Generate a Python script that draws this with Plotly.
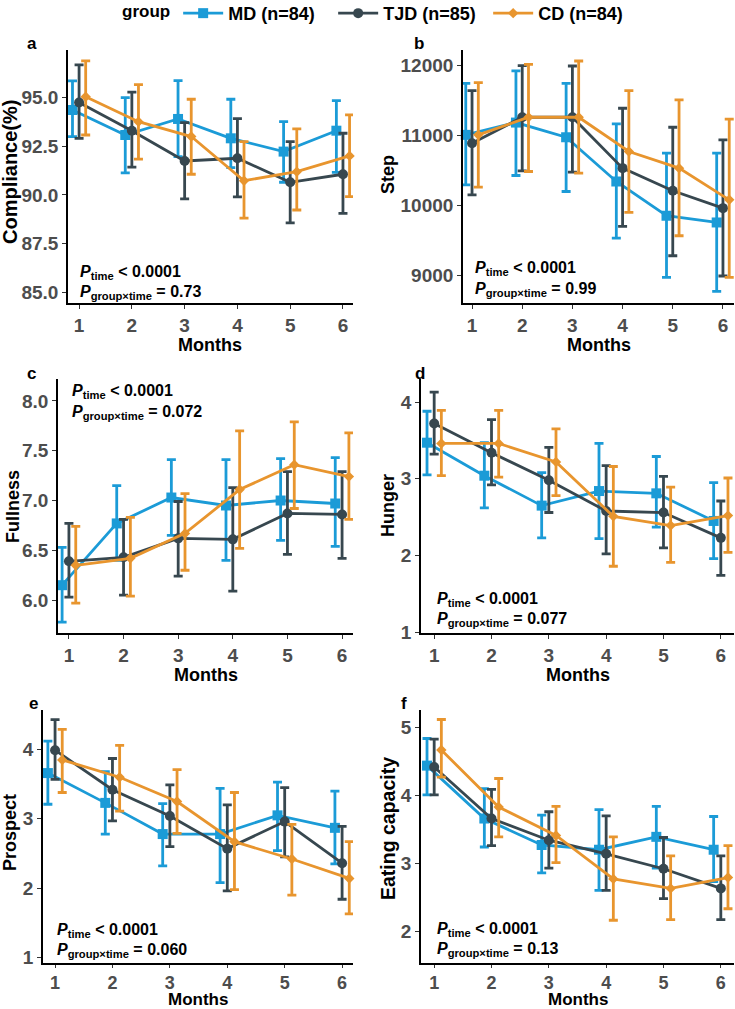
import plotly.graph_objects as go

W, H = 735, 1009
months = [1, 2, 3, 4, 5, 6]
groups = ["MD (n=84)", "TJD (n=85)", "CD (n=84)"]
colors = ["#1B9BD7", "#37474F", "#E8952E"]
symbols = ["square", "circle", "diamond"]
msizes = [10, 10, 8]
dodge = [-0.125, 0.0, 0.125]

# ---- panel a: Compliance(%)
a_md_mean = [94.35, 93.07, 93.89, 92.90, 92.22, 93.29]
a_md_lo = [92.99, 91.13, 91.96, 91.40, 90.65, 91.16]
a_md_hi = [95.84, 94.98, 95.85, 94.90, 93.75, 94.83]
a_tjd_mean = [94.73, 93.29, 91.74, 91.88, 90.65, 91.06]
a_tjd_lo = [92.90, 91.42, 89.80, 89.90, 88.57, 89.06]
a_tjd_hi = [96.66, 95.26, 93.70, 93.91, 92.73, 93.16]
a_cd_mean = [95.03, 93.75, 92.99, 90.73, 91.19, 92.00]
a_cd_lo = [93.07, 91.83, 91.06, 88.81, 89.23, 89.91]
a_cd_hi = [96.86, 95.65, 94.90, 92.73, 93.38, 94.10]

# ---- panel b: Step
b_md_mean = [11005, 11181, 10971, 10338, 9848, 9752]
b_md_lo = [10290, 10424, 10195, 9529, 8967, 8767]
b_md_hi = [11743, 11919, 11743, 11162, 10743, 10743]
b_tjd_mean = [10886, 11257, 11257, 10529, 10205, 9957]
b_tjd_lo = [10148, 10490, 10471, 9695, 9276, 8986]
b_tjd_hi = [11638, 11995, 11990, 11386, 11114, 10933]
b_cd_mean = [11005, 11257, 11257, 10767, 10529, 10076]
b_cd_lo = [10257, 10481, 10457, 9895, 9562, 8967]
b_cd_hi = [11752, 12014, 12062, 11638, 11505, 11229]

# ---- panel c: Fullness
c_md_mean = [6.15, 6.77, 7.03, 6.95, 7.00, 6.97]
c_md_lo = [5.78, 6.40, 6.65, 6.40, 6.60, 6.54]
c_md_hi = [6.53, 7.15, 7.41, 7.41, 7.42, 7.43]
c_tjd_mean = [6.39, 6.43, 6.62, 6.61, 6.87, 6.86]
c_tjd_lo = [6.03, 6.05, 6.24, 6.09, 6.46, 6.42]
c_tjd_hi = [6.77, 6.81, 6.99, 7.13, 7.29, 7.29]
c_cd_mean = [6.35, 6.42, 6.67, 7.11, 7.36, 7.24]
c_cd_lo = [5.97, 6.04, 6.30, 6.52, 6.92, 6.81]
c_cd_hi = [6.74, 6.83, 7.07, 7.70, 7.79, 7.68]

# ---- panel d: Hunger
d_md_mean = [3.47, 3.04, 2.65, 2.84, 2.81, 2.45]
d_md_lo = [3.05, 2.62, 2.23, 2.22, 2.37, 1.96]
d_md_hi = [3.88, 3.47, 3.08, 3.46, 3.29, 2.95]
d_tjd_mean = [3.72, 3.34, 2.98, 2.58, 2.56, 2.23]
d_tjd_lo = [3.32, 2.92, 2.56, 2.02, 2.10, 1.74]
d_tjd_hi = [4.13, 3.77, 3.41, 3.17, 3.03, 2.71]
d_cd_mean = [3.46, 3.46, 3.22, 2.51, 2.39, 2.52]
d_cd_lo = [3.04, 3.02, 2.78, 1.86, 1.91, 2.04]
d_cd_hi = [3.89, 3.89, 3.65, 3.16, 2.89, 3.01]

# ---- panel e: Prospect
e_md_mean = [3.66, 3.23, 2.78, 2.78, 3.05, 2.87]
e_md_lo = [3.21, 2.78, 2.32, 2.08, 2.54, 2.35]
e_md_hi = [4.12, 3.68, 3.22, 3.44, 3.53, 3.40]
e_tjd_mean = [3.99, 3.42, 3.04, 2.57, 2.96, 2.36]
e_tjd_lo = [3.57, 2.97, 2.60, 1.96, 2.45, 1.84]
e_tjd_hi = [4.43, 3.87, 3.49, 3.20, 3.45, 2.89]
e_cd_mean = [3.85, 3.60, 3.25, 2.67, 2.42, 2.14]
e_cd_lo = [3.38, 3.11, 2.79, 1.98, 1.90, 1.63]
e_cd_hi = [4.29, 4.06, 3.71, 3.38, 2.92, 2.67]

# ---- panel f: Eating capacity
f_md_mean = [4.44, 3.66, 3.27, 3.20, 3.39, 3.20]
f_md_lo = [4.01, 3.24, 2.86, 2.60, 2.93, 2.73]
f_md_hi = [4.84, 4.10, 3.71, 3.79, 3.84, 3.69]
f_tjd_mean = [4.42, 3.66, 3.34, 3.14, 2.92, 2.63]
f_tjd_lo = [4.01, 3.26, 2.93, 2.60, 2.48, 2.17]
f_tjd_hi = [4.83, 4.09, 3.76, 3.70, 3.38, 3.11]
f_cd_mean = [4.67, 3.83, 3.41, 2.77, 2.63, 2.79]
f_cd_lo = [4.27, 3.39, 3.01, 2.16, 2.17, 2.33]
f_cd_hi = [5.12, 4.25, 3.84, 3.39, 3.11, 3.26]

panel_letters = ["a", "b", "c", "d", "e", "f"]
y_titles = ["Compliance(%)", "Step", "Fullness", "Hunger", "Prospect", "Eating capacity"]
p_interaction = ["0.73", "0.99", "0.072", "0.077", "0.060", "0.13"]
y_tickvals = [[85, 87.5, 90, 92.5, 95], [9000, 10000, 11000, 12000],
              [6.0, 6.5, 7.0, 7.5, 8.0], [1, 2, 3, 4], [1, 2, 3, 4], [2, 3, 4, 5]]
y_tickformat = [".1f", "d", ".1f", "d", "d", "d"]

series = {
    "a": [(a_md_mean, a_md_lo, a_md_hi), (a_tjd_mean, a_tjd_lo, a_tjd_hi), (a_cd_mean, a_cd_lo, a_cd_hi)],
    "b": [(b_md_mean, b_md_lo, b_md_hi), (b_tjd_mean, b_tjd_lo, b_tjd_hi), (b_cd_mean, b_cd_lo, b_cd_hi)],
    "c": [(c_md_mean, c_md_lo, c_md_hi), (c_tjd_mean, c_tjd_lo, c_tjd_hi), (c_cd_mean, c_cd_lo, c_cd_hi)],
    "d": [(d_md_mean, d_md_lo, d_md_hi), (d_tjd_mean, d_tjd_lo, d_tjd_hi), (d_cd_mean, d_cd_lo, d_cd_hi)],
    "e": [(e_md_mean, e_md_lo, e_md_hi), (e_tjd_mean, e_tjd_lo, e_tjd_hi), (e_cd_mean, e_cd_lo, e_cd_hi)],
    "f": [(f_md_mean, f_md_lo, f_md_hi), (f_tjd_mean, f_tjd_lo, f_tjd_hi), (f_cd_mean, f_cd_lo, f_cd_hi)],
}

# ---- layout geometry (pixels)
plot_x = [(68, 353), (463, 734), (58, 353), (421, 734), (43, 353), (421, 734)]
plot_y = [(50, 303), (50, 303), (379, 633), (379, 633), (710, 963), (710, 963)]
x_ranges = [(0.79, 6.19), (0.82, 6.22), (0.80, 6.20), (0.77, 6.23), (0.79, 6.19), (0.77, 6.23)]
y_ranges = [(84.47, 97.42), (8600, 12219), (5.67, 8.22), (0.99, 4.30), (0.92, 4.57), (1.53, 5.26)]
ytitle_pos = [(10, 172), (388, 175), (13, 507), (388, 506), (10, 833), (388, 829)]
ytitle_size = [20, 18, 18, 18, 18, 19.5]
months_y = [345, 345, 675, 675, 999.5, 999.5]
months_size = [18, 18, 18, 18, 17, 17]
xtick_size = [19, 19, 19, 19, 18, 18]
xtick_len = [4, 4, 4, 4, 3, 3]
letter_pos = [(32, 43), (419, 43), (32, 373), (420, 373), (33, 703), (404, 703)]
ptext_pos = [(78, 270), (473, 267), (70, 390), (435, 597), (55, 928), (435, 927)]

FONT = "Arial, Liberation Sans, sans-serif"

def px(x):
    return x / W

def py(y):
    return 1 - y / H

fig = go.Figure()
annotations = []
layout_axes = {}

for i, key in enumerate(panel_letters):
    ax = "" if i == 0 else str(i + 1)
    xref, yref = "x" + ax, "y" + ax
    for g in range(3):
        mean, lo, hi = series[key][g]
        xs = [m + dodge[g] for m in months]
        fig.add_trace(go.Scatter(
            x=xs, y=mean, xaxis=xref, yaxis=yref,
            mode="lines+markers", name=groups[g],
            legendgroup=groups[g], showlegend=(i == 0),
            line=dict(color=colors[g], width=2.8),
            marker=dict(symbol=symbols[g], size=msizes[g], color=colors[g]),
            error_y=dict(type="data", symmetric=False,
                         array=[h - m for h, m in zip(hi, mean)],
                         arrayminus=[m - l for m, l in zip(mean, lo)],
                         color=colors[g], thickness=2.8, width=4.5),
            cliponaxis=False,
        ))
    xl, xr = plot_x[i]
    yt, yb = plot_y[i]
    layout_axes["xaxis" + ax] = dict(
        domain=[px(xl), px(xr)], anchor=yref, range=list(x_ranges[i]),
        tickvals=months, ticktext=[str(m) for m in months],
        showline=True, linecolor="black", linewidth=1.6,
        ticks="outside", ticklen=xtick_len[i], tickwidth=1.4, tickcolor="#333333",
        showgrid=False, zeroline=False, automargin=False,
        tickfont=dict(family=FONT, size=xtick_size[i], color="#4D4D4D", weight="bold"),
    )
    layout_axes["yaxis" + ax] = dict(
        domain=[py(yb), py(yt)], anchor=xref, range=list(y_ranges[i]),
        tickvals=y_tickvals[i], tickformat=y_tickformat[i],
        showline=True, linecolor="black", linewidth=1.6,
        ticks="outside", ticklen=4, tickwidth=1.4, tickcolor="#333333",
        showgrid=False, zeroline=False, automargin=False,
        tickfont=dict(family=FONT, size=19, color="#4D4D4D", weight="bold"),
    )
    # x title
    annotations.append(dict(
        text="Months", xref="paper", yref="paper",
        x=px((xl + xr) / 2), y=py(months_y[i]), xanchor="center", yanchor="middle",
        showarrow=False, font=dict(family=FONT, size=months_size[i], color="black", weight="bold")))
    # y title
    tx, ty = ytitle_pos[i]
    annotations.append(dict(
        text=y_titles[i], xref="paper", yref="paper", textangle=-90,
        x=px(tx), y=py(ty), xanchor="center", yanchor="middle",
        showarrow=False, font=dict(family=FONT, size=ytitle_size[i], color="black", weight="bold")))
    # panel letter
    lx, ly = letter_pos[i]
    annotations.append(dict(
        text=key, xref="paper", yref="paper",
        x=px(lx), y=py(ly), xanchor="center", yanchor="middle",
        showarrow=False, font=dict(family=FONT, size=17, color="black", weight="bold")))
    # P-values
    ptx, pty = ptext_pos[i]
    annotations.append(dict(
        text="<i>P</i><sub>time</sub> &lt; 0.0001", xref="paper", yref="paper",
        x=px(ptx), y=py(pty + 2), xanchor="left", yanchor="middle",
        showarrow=False, font=dict(family=FONT, size=16, color="black", weight="bold")))
    annotations.append(dict(
        text="<i>P</i><sub>group×time</sub> = " + p_interaction[i], xref="paper", yref="paper",
        x=px(ptx), y=py(pty + 22), xanchor="left", yanchor="middle",
        showarrow=False, font=dict(family=FONT, size=16, color="black", weight="bold")))

fig.update_layout(
    width=W, height=H,
    margin=dict(l=0, r=0, t=0, b=0, autoexpand=False),
    paper_bgcolor="white", plot_bgcolor="white",
    annotations=annotations,
    showlegend=True,
    legend=dict(orientation="h", x=px(120), xanchor="left", y=1.005, yanchor="top",
                title=dict(text="group", side="left",
                           font=dict(family=FONT, size=17, color="black", weight="bold")),
                font=dict(family=FONT, size=18, color="black", weight="bold"),
                itemwidth=40, entrywidth=100, tracegroupgap=0),
    **layout_axes,
)

post = ("document.body.style.margin='0px';"
        "document.body.style.overflow='hidden';"
        "document.documentElement.style.overflow='hidden';")
fig.write_html("out.html", post_script=post, config={"displayModeBar": False})
